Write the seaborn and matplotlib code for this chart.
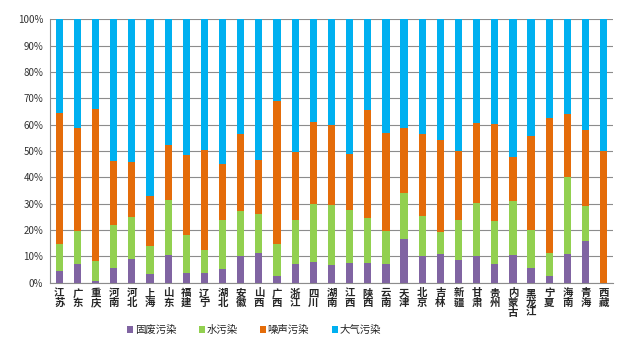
import matplotlib
matplotlib.use('Agg')
import matplotlib.pyplot as plt
from matplotlib.patches import Patch
from matplotlib.ticker import FixedLocator, PercentFormatter
import seaborn as sns
import pandas as pd
import numpy as np

provinces = ["江苏", "广东", "重庆", "河南", "河北", "上海", "山东", "福建", "辽宁", "湖北",
             "安徽", "山西", "广西", "浙江", "四川", "湖南", "江西", "陕西", "云南", "天津",
             "北京", "吉林", "新疆", "甘肃", "贵州", "内蒙古", "黑龙江", "宁夏", "海南", "青海", "西藏"]

# shares (%)
solid_waste = [4.4, 7.1, 0.8, 5.7, 9.2, 3.5, 10.4, 3.9, 3.9, 5.3,
               10.1, 11.3, 2.5, 7.0, 8.0, 6.8, 7.5, 7.7, 7.3, 16.7,
               10.3, 11.0, 8.6, 10.3, 7.1, 10.6, 5.6, 2.7, 11.0, 15.9, 0.0]
water = [10.5, 12.5, 7.4, 16.1, 15.6, 10.3, 21.0, 14.1, 8.6, 18.6,
         17.1, 14.8, 12.1, 16.7, 21.9, 22.8, 20.3, 16.7, 12.3, 17.2,
         15.0, 8.4, 15.3, 20.0, 16.3, 20.5, 14.4, 8.6, 29.3, 13.2, 0.0]
noise = [49.4, 39.1, 57.9, 24.3, 21.0, 19.2, 20.8, 30.5, 37.8, 21.2,
         29.1, 20.4, 54.3, 25.8, 31.0, 30.1, 21.2, 41.2, 37.4, 24.7,
         31.3, 34.7, 26.0, 30.5, 36.9, 16.5, 35.8, 51.4, 23.9, 28.9, 50.0]
air = [round(100 - a - b - c, 1) for a, b, c in zip(solid_waste, water, noise)]

series_names = ["固废污染", "水污染", "噪声污染", "大气污染"]
colors = ["#8064A2", "#92D050", "#E46C0A", "#00B0F0"]

df = pd.DataFrame({"省份": provinces, "固废污染": solid_waste, "水污染": water,
                   "噪声污染": noise, "大气污染": air})
cum = df[series_names].cumsum(axis=1)
cum["省份"] = df["省份"]

sns.set_theme(style='white')
plt.rcParams['font.family'] = ['Noto Sans CJK SC', 'DejaVu Sans']

fig = plt.figure(figsize=(6.4, 3.5), dpi=100)
ax = fig.add_axes([0.0784, 0.192, 0.879, 0.753])

# stacked: draw cumulative totals from the top down
for name, col in reversed(list(zip(series_names, colors))):
    sns.barplot(data=cum, x="省份", y=name, color=col, width=0.4,
                saturation=1, ax=ax, zorder=3, linewidth=0)

ax.set_ylim(0, 100)
ax.set_xlim(-0.5, len(provinces) - 0.5)
ax.yaxis.set_major_locator(FixedLocator(np.arange(0, 101, 10)))
ax.yaxis.set_major_formatter(PercentFormatter(decimals=0))
ax.grid(axis='y', color='#8c8c8c', linewidth=0.8, zorder=0)
ax.set_axisbelow(True)

ax.set_xticks(range(len(provinces)))
ax.set_xticklabels(["\n".join(p) for p in provinces], fontsize=7.5,
                   fontweight='bold', linespacing=0.95, va='top')
ax.tick_params(axis='x', length=0, pad=4)
ax.set_xticks(np.arange(-0.5, len(provinces), 1), minor=True)
ax.tick_params(axis='x', which='minor', length=4, color='#8c8c8c', direction='out')
ax.tick_params(axis='y', labelsize=7, length=3, color='#8c8c8c', labelcolor='#333333', pad=2)

for s in ['top', 'right']:
    ax.spines[s].set_visible(False)
for s in ['left', 'bottom']:
    ax.spines[s].set_color('#8c8c8c')
    ax.spines[s].set_linewidth(0.8)

ax.set_xlabel("")
ax.set_ylabel("")

handles = [Patch(facecolor=c, edgecolor='none', label=n) for n, c in zip(series_names, colors)]
fig.legend(handles=handles, loc='center', bbox_to_anchor=(0.397, 0.057), ncol=4,
           frameon=False, fontsize=7.5, handlelength=0.55, handleheight=0.55,
           handletextpad=0.15, columnspacing=2.2)

plt.savefig("out.png", dpi=100)
